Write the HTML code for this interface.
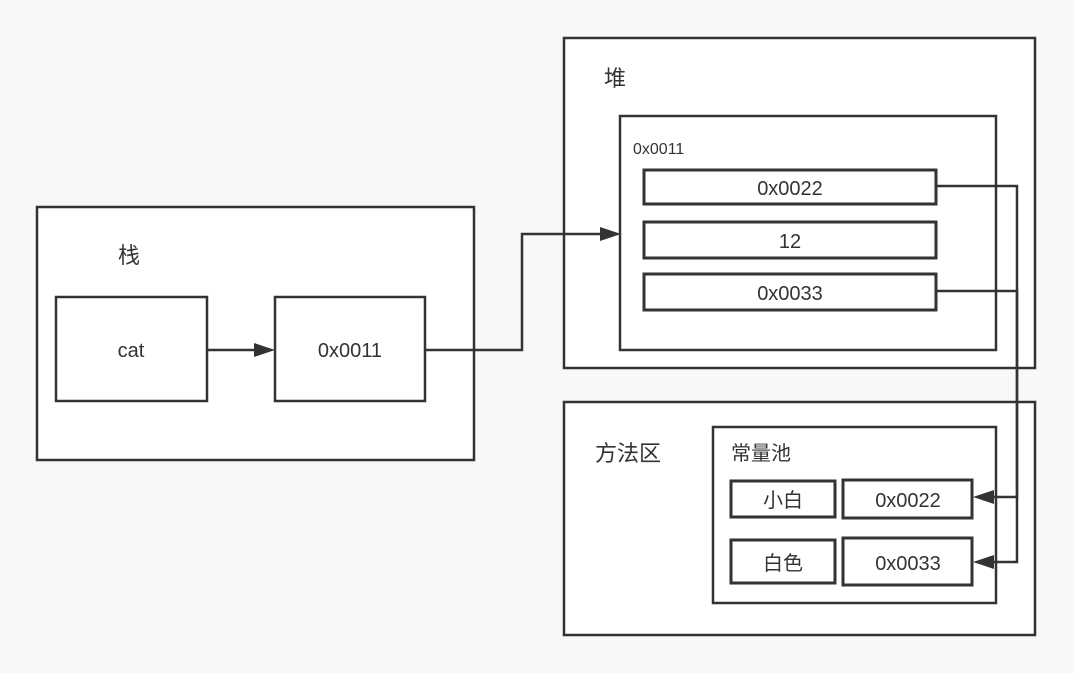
<!DOCTYPE html>
<html><head><meta charset="utf-8"><style>
html,body{margin:0;padding:0;background:#f8f8f8;}
svg{display:block;}
text{font-family:"Liberation Sans","Noto Sans CJK SC",sans-serif;fill:#333;}
</style></head><body>
<svg width="1074" height="673" viewBox="0 0 1074 673" xmlns="http://www.w3.org/2000/svg">
<rect x="0" y="0" width="1074" height="673" fill="#f8f8f8"/>
<g fill="#fff" stroke="#333" stroke-width="2.5">
<rect x="37" y="207" width="437" height="253"/>
<rect x="56" y="297" width="151" height="104"/>
<rect x="275" y="297" width="150" height="104"/>
<rect x="564" y="38" width="471" height="330"/>
<rect x="620" y="116" width="376" height="234"/>
<rect x="644" y="170" width="292" height="34" stroke-width="3"/>
<rect x="644" y="222" width="292" height="36" stroke-width="3"/>
<rect x="644" y="274" width="292" height="36" stroke-width="3"/>
<rect x="564" y="402" width="471" height="233"/>
<rect x="713" y="427" width="283" height="176"/>
<rect x="731" y="481" width="104" height="36" stroke-width="3"/>
<rect x="843" y="480" width="129" height="38" stroke-width="3"/>
<rect x="731" y="540" width="104" height="43" stroke-width="3"/>
<rect x="843" y="538" width="129" height="47" stroke-width="3"/>
</g>
<g fill="none" stroke="#333" stroke-width="2.5">
<polyline points="207,350 258,350"/>
<polyline points="425,350 522,350 522,234 603,234"/>
<polyline points="936,186 1017,186 1017,497 990,497"/>
<polyline points="936,291 1017,291 1017,562 990,562"/>
</g>
<g fill="#333">
<polygon points="275,350 254,343 254,357"/>
<polygon points="621,234 600,227 600,241"/>
<polygon points="973,497 994,490 994,504"/>
<polygon points="973,562 994,555 994,569"/>
</g>
<g font-size="20" text-anchor="middle">
<text x="131" y="357">cat</text>
<text x="350" y="357">0x0011</text>
<text x="790" y="195">0x0022</text>
<text x="790" y="248">12</text>
<text x="790" y="300">0x0033</text>
<text x="908" y="507">0x0022</text>
<text x="908" y="570">0x0033</text>
<text x="783" y="507">小白</text>
<text x="783" y="570">白色</text>
</g>
<g font-size="22">
<text x="118" y="263">栈</text>
<text x="604" y="86">堆</text>
<text x="595" y="461">方法区</text>
</g>
<text x="731" y="460" font-size="20">常量池</text>
<text x="633" y="154" font-size="16">0x0011</text>
</svg>
</body></html>
